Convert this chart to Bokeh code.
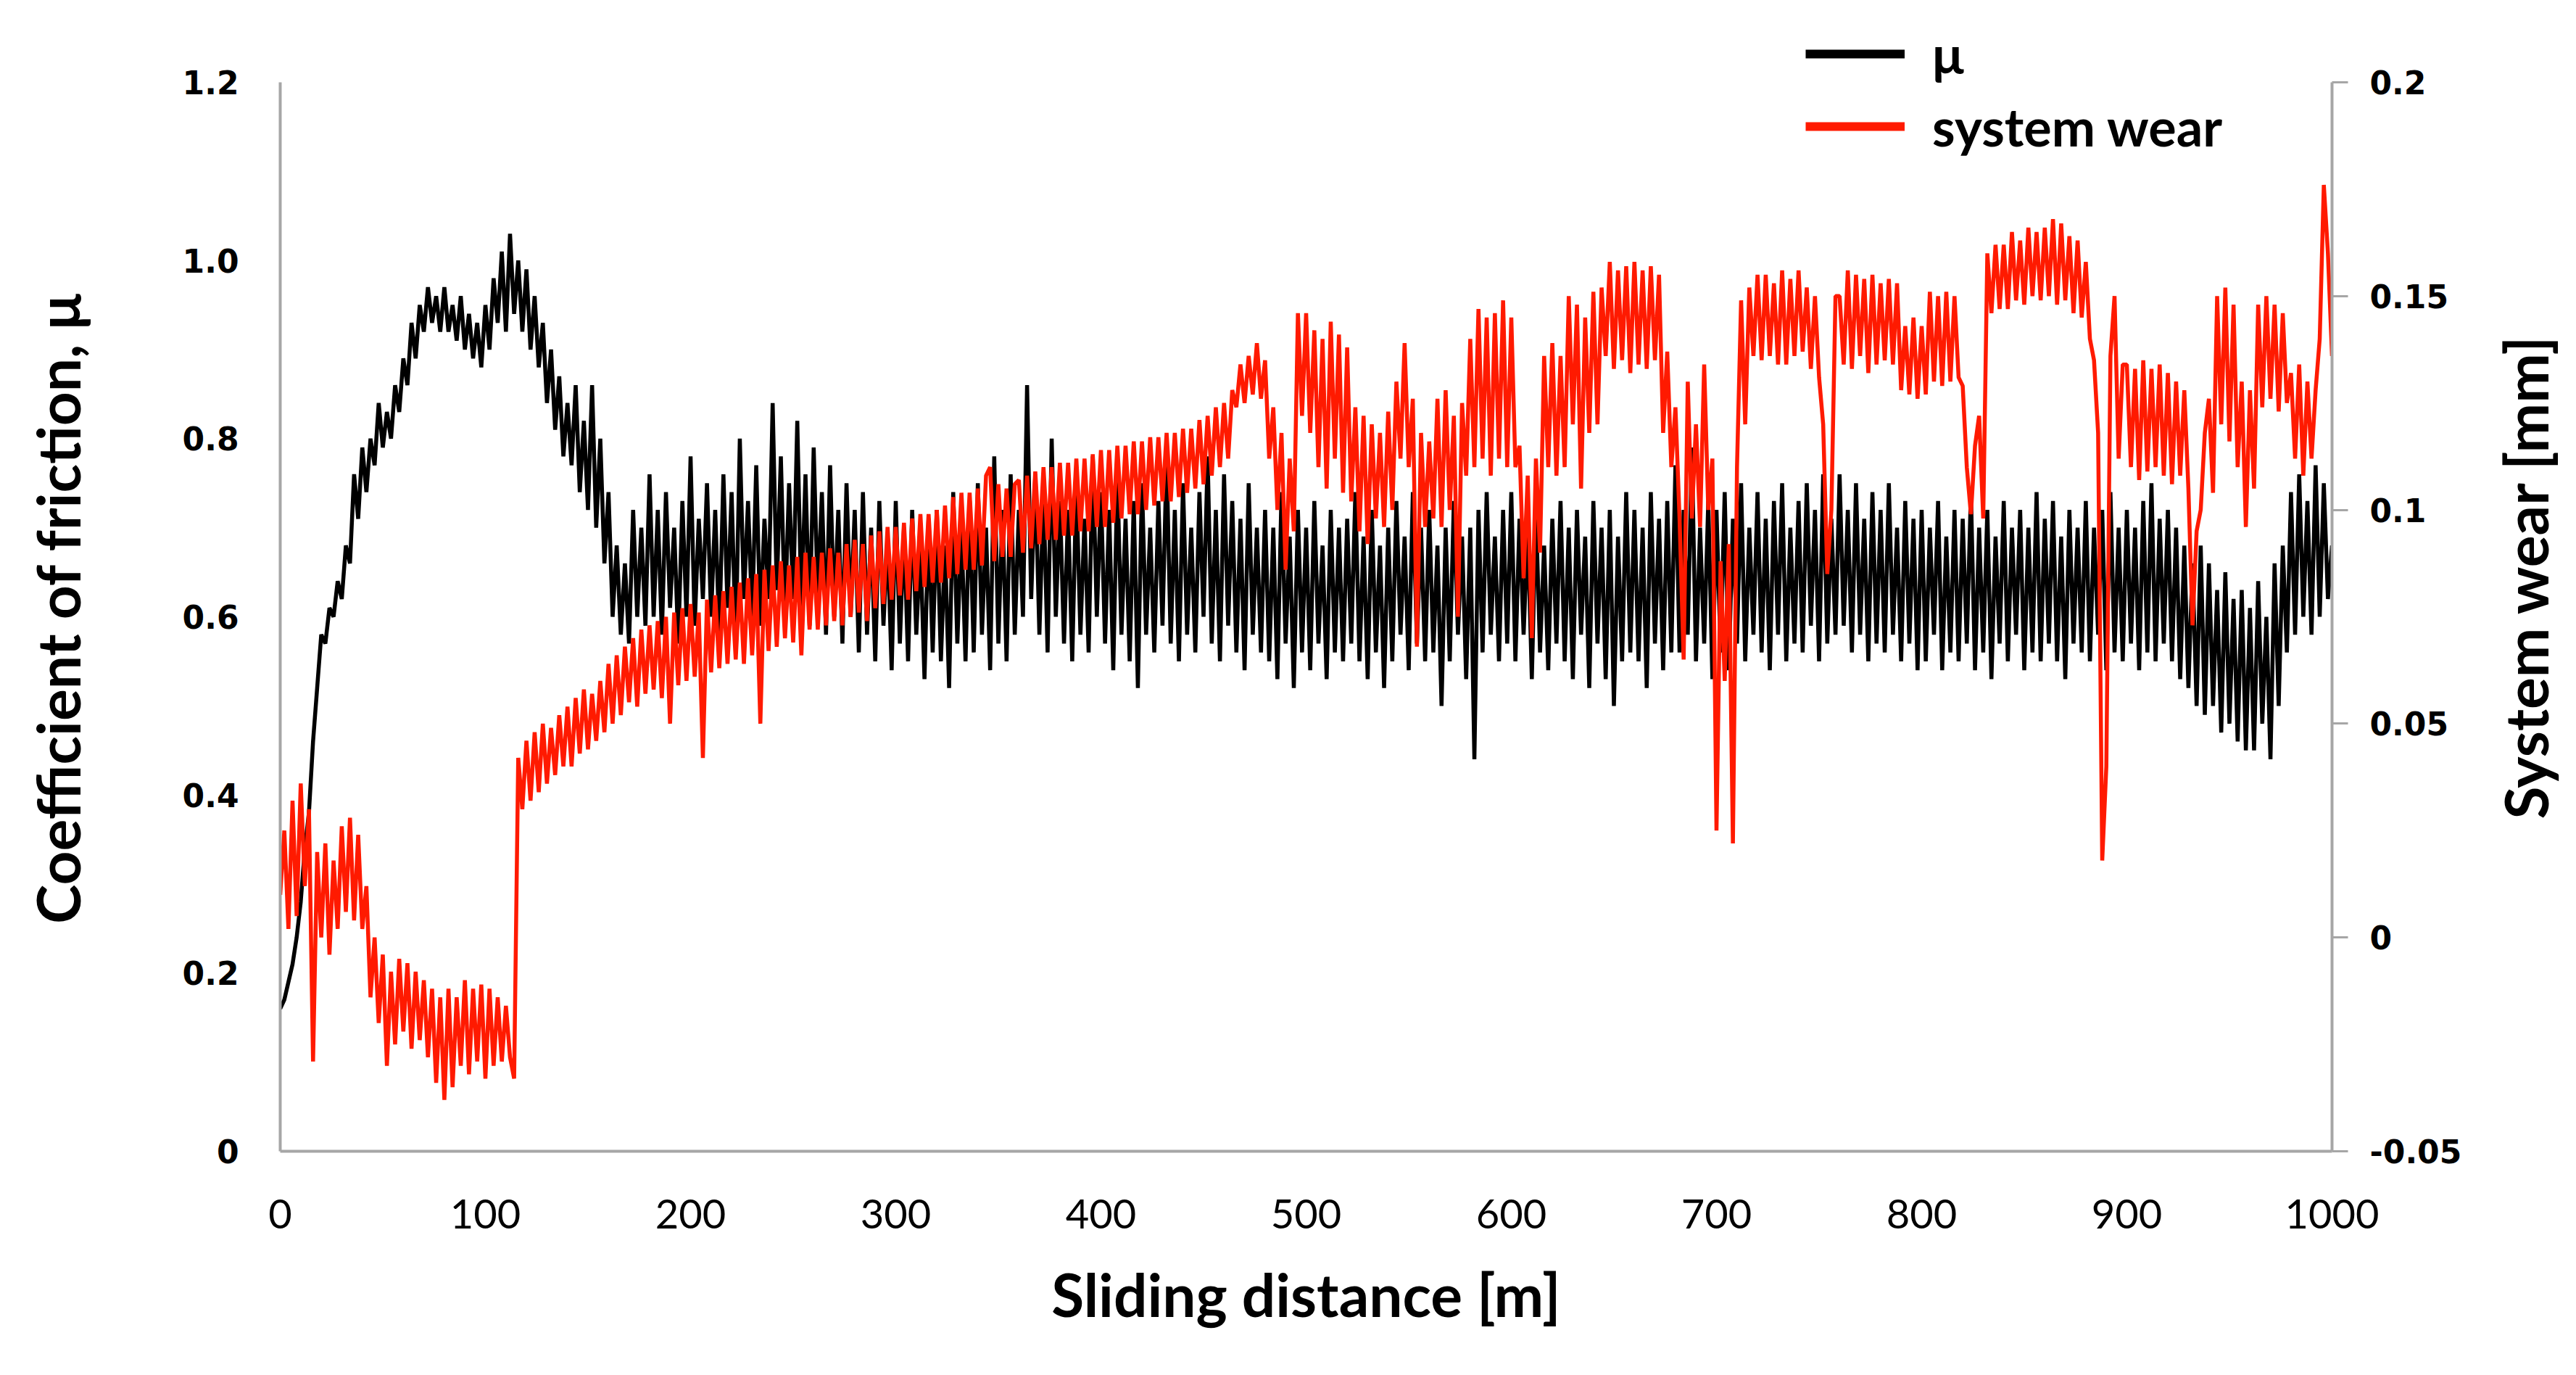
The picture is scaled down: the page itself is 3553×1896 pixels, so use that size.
import math
from bokeh.plotting import figure
from bokeh.layouts import row
from bokeh.models import Range1d, LinearAxis, FixedTicker, Legend, LegendItem, Label
from bokeh.embed import file_html
from bokeh.resources import INLINE

# Sliding distance [m], sampled every 2 m
distance = list(range(0, 1001, 2))

# Coefficient of friction
mu = [
    0.16, 0.17, 0.19, 0.21, 0.24, 0.28, 0.34, 0.38, 0.46, 0.52,
    0.58, 0.57, 0.61, 0.60, 0.64, 0.62, 0.68, 0.66, 0.76, 0.71,
    0.79, 0.74, 0.80, 0.77, 0.84, 0.79, 0.83, 0.80, 0.86, 0.83,
    0.89, 0.86, 0.93, 0.89, 0.95, 0.92, 0.97, 0.93, 0.96, 0.92,
    0.97, 0.92, 0.95, 0.91, 0.96, 0.90, 0.94, 0.89, 0.93, 0.88,
    0.95, 0.90, 0.98, 0.93, 1.01, 0.92, 1.03, 0.94, 1.00, 0.92,
    0.99, 0.90, 0.96, 0.88, 0.93, 0.84, 0.90, 0.81, 0.87, 0.78,
    0.84, 0.77, 0.86, 0.74, 0.82, 0.72, 0.86, 0.70, 0.80, 0.66,
    0.74, 0.60, 0.68, 0.58, 0.66, 0.57, 0.72, 0.60, 0.70, 0.59,
    0.76, 0.60, 0.72, 0.58, 0.74, 0.61, 0.70, 0.57, 0.73, 0.60,
    0.78, 0.59, 0.71, 0.62, 0.75, 0.60, 0.72, 0.58, 0.76, 0.61,
    0.74, 0.57, 0.80, 0.62, 0.73, 0.60, 0.77, 0.59, 0.71, 0.62,
    0.84, 0.63, 0.78, 0.60, 0.75, 0.62, 0.82, 0.61, 0.76, 0.59,
    0.79, 0.62, 0.74, 0.58, 0.77, 0.60, 0.72, 0.57, 0.75, 0.60,
    0.72, 0.56, 0.74, 0.58, 0.70, 0.55, 0.73, 0.59, 0.69, 0.54,
    0.73, 0.57, 0.70, 0.55, 0.72, 0.58, 0.68, 0.53, 0.71, 0.56,
    0.72, 0.55, 0.68, 0.52, 0.74, 0.57, 0.70, 0.55, 0.73, 0.56,
    0.75, 0.58, 0.70, 0.54, 0.78, 0.57, 0.72, 0.55, 0.76, 0.58,
    0.72, 0.60, 0.86, 0.62, 0.76, 0.58, 0.74, 0.56, 0.80, 0.60,
    0.73, 0.57, 0.72, 0.55, 0.75, 0.58, 0.71, 0.56, 0.78, 0.60,
    0.74, 0.57, 0.72, 0.54, 0.76, 0.58, 0.71, 0.55, 0.73, 0.52,
    0.75, 0.58, 0.70, 0.56, 0.73, 0.59, 0.78, 0.57, 0.72, 0.55,
    0.75, 0.58, 0.70, 0.56, 0.74, 0.60, 0.78, 0.57, 0.72, 0.55,
    0.76, 0.59, 0.73, 0.56, 0.71, 0.54, 0.75, 0.58, 0.70, 0.56,
    0.72, 0.55, 0.70, 0.53, 0.74, 0.57, 0.69, 0.52, 0.72, 0.56,
    0.70, 0.54, 0.73, 0.57, 0.68, 0.53, 0.72, 0.56, 0.70, 0.55,
    0.71, 0.57, 0.74, 0.55, 0.69, 0.53, 0.72, 0.56, 0.68, 0.52,
    0.70, 0.55, 0.73, 0.58, 0.69, 0.54, 0.74, 0.57, 0.70, 0.55,
    0.72, 0.56, 0.68, 0.50, 0.70, 0.55, 0.73, 0.58, 0.69, 0.53,
    0.70, 0.44, 0.72, 0.56, 0.74, 0.58, 0.69, 0.55, 0.72, 0.57,
    0.74, 0.55, 0.71, 0.58, 0.70, 0.53, 0.72, 0.56, 0.68, 0.54,
    0.71, 0.57, 0.73, 0.55, 0.70, 0.53, 0.72, 0.58, 0.69, 0.52,
    0.73, 0.57, 0.70, 0.53, 0.72, 0.50, 0.69, 0.55, 0.74, 0.56,
    0.72, 0.55, 0.70, 0.52, 0.74, 0.57, 0.71, 0.54, 0.73, 0.56,
    0.77, 0.56, 0.72, 0.58, 0.79, 0.55, 0.70, 0.57, 0.73, 0.53,
    0.72, 0.56, 0.74, 0.54, 0.71, 0.57, 0.75, 0.55, 0.70, 0.58,
    0.74, 0.56, 0.71, 0.54, 0.73, 0.58, 0.75, 0.55, 0.70, 0.57,
    0.73, 0.56, 0.75, 0.59, 0.72, 0.55, 0.76, 0.57, 0.71, 0.58,
    0.76, 0.59, 0.72, 0.56, 0.75, 0.58, 0.71, 0.55, 0.74, 0.57,
    0.72, 0.56, 0.75, 0.58, 0.70, 0.55, 0.73, 0.57, 0.71, 0.54,
    0.72, 0.55, 0.70, 0.58, 0.73, 0.54, 0.69, 0.56, 0.72, 0.55,
    0.71, 0.57, 0.74, 0.54, 0.70, 0.56, 0.72, 0.53, 0.69, 0.57,
    0.73, 0.55, 0.70, 0.58, 0.72, 0.54, 0.70, 0.56, 0.74, 0.55,
    0.71, 0.57, 0.73, 0.55, 0.69, 0.53, 0.72, 0.57, 0.70, 0.56,
    0.73, 0.55, 0.70, 0.58, 0.72, 0.54, 0.74, 0.56, 0.70, 0.55,
    0.72, 0.57, 0.70, 0.54, 0.73, 0.56, 0.75, 0.55, 0.71, 0.57,
    0.72, 0.55, 0.70, 0.53, 0.68, 0.52, 0.66, 0.50, 0.68, 0.49,
    0.66, 0.50, 0.63, 0.47, 0.65, 0.48, 0.62, 0.46, 0.63, 0.45,
    0.61, 0.45, 0.64, 0.48, 0.60, 0.44, 0.66, 0.50, 0.68, 0.56,
    0.74, 0.58, 0.76, 0.60, 0.73, 0.58, 0.77, 0.60, 0.75, 0.62,
    0.68,
]

# System wear [mm]
wear = [
    0.010, 0.025, 0.002, 0.032, 0.005, 0.036, 0.012, 0.030, -0.029, 0.020,
    0.000, 0.022, -0.004, 0.018, 0.002, 0.026, 0.006, 0.028, 0.004, 0.024,
    0.002, 0.012, -0.014, 0.000, -0.020, -0.004, -0.030, -0.008, -0.025, -0.005,
    -0.022, -0.006, -0.026, -0.008, -0.024, -0.010, -0.028, -0.012, -0.034, -0.014,
    -0.038, -0.012, -0.035, -0.014, -0.030, -0.010, -0.032, -0.012, -0.029, -0.011,
    -0.033, -0.012, -0.030, -0.014, -0.029, -0.016, -0.028, -0.033, 0.042, 0.030,
    0.046, 0.032, 0.048, 0.034, 0.050, 0.036, 0.049, 0.038, 0.052, 0.040,
    0.054, 0.040, 0.056, 0.043, 0.058, 0.044, 0.057, 0.046, 0.060, 0.048,
    0.064, 0.050, 0.066, 0.052, 0.068, 0.055, 0.070, 0.054, 0.072, 0.057,
    0.073, 0.058, 0.074, 0.056, 0.075, 0.050, 0.076, 0.059, 0.077, 0.060,
    0.078, 0.061, 0.076, 0.042, 0.079, 0.062, 0.080, 0.063, 0.081, 0.064,
    0.082, 0.065, 0.083, 0.064, 0.084, 0.066, 0.085, 0.050, 0.086, 0.067,
    0.087, 0.068, 0.088, 0.070, 0.087, 0.069, 0.089, 0.066, 0.090, 0.072,
    0.089, 0.072, 0.090, 0.073, 0.091, 0.074, 0.090, 0.073, 0.092, 0.075,
    0.093, 0.076, 0.092, 0.074, 0.094, 0.077, 0.095, 0.078, 0.096, 0.079,
    0.096, 0.080, 0.097, 0.079, 0.098, 0.081, 0.099, 0.082, 0.099, 0.083,
    0.100, 0.083, 0.101, 0.084, 0.103, 0.085, 0.104, 0.086, 0.104, 0.086,
    0.105, 0.087, 0.108, 0.110, 0.088, 0.106, 0.089, 0.105, 0.089, 0.106,
    0.107, 0.090, 0.108, 0.091, 0.109, 0.092, 0.110, 0.093, 0.110, 0.093,
    0.111, 0.094, 0.111, 0.094, 0.112, 0.095, 0.112, 0.095, 0.113, 0.096,
    0.114, 0.096, 0.114, 0.097, 0.115, 0.098, 0.115, 0.099, 0.116, 0.099,
    0.116, 0.100, 0.117, 0.101, 0.117, 0.102, 0.118, 0.102, 0.118, 0.103,
    0.119, 0.104, 0.119, 0.105, 0.121, 0.106, 0.122, 0.108, 0.124, 0.110,
    0.125, 0.112, 0.128, 0.124, 0.134, 0.125, 0.136, 0.127, 0.139, 0.126,
    0.135, 0.112, 0.124, 0.100, 0.118, 0.086, 0.112, 0.095, 0.146, 0.122,
    0.146, 0.118, 0.142, 0.110, 0.140, 0.105, 0.144, 0.112, 0.141, 0.104,
    0.138, 0.102, 0.124, 0.095, 0.122, 0.092, 0.120, 0.098, 0.118, 0.096,
    0.123, 0.100, 0.130, 0.112, 0.139, 0.110, 0.126, 0.068, 0.118, 0.096,
    0.116, 0.098, 0.126, 0.096, 0.128, 0.100, 0.122, 0.075, 0.125, 0.108,
    0.140, 0.110, 0.147, 0.112, 0.145, 0.108, 0.146, 0.112, 0.149, 0.110,
    0.145, 0.110, 0.115, 0.084, 0.108, 0.070, 0.112, 0.090, 0.136, 0.110,
    0.139, 0.108, 0.136, 0.110, 0.150, 0.120, 0.148, 0.105, 0.145, 0.118,
    0.151, 0.120, 0.152, 0.136, 0.158, 0.133, 0.156, 0.135, 0.157, 0.132,
    0.158, 0.134, 0.156, 0.133, 0.157, 0.135, 0.155, 0.118, 0.137, 0.110,
    0.124, 0.098, 0.065, 0.130, 0.098, 0.120, 0.096, 0.134, 0.100, 0.112,
    0.025, 0.088, 0.060, 0.092, 0.022, 0.110, 0.149, 0.120, 0.152, 0.136,
    0.155, 0.135, 0.155, 0.136, 0.153, 0.134, 0.156, 0.134, 0.154, 0.136,
    0.156, 0.137, 0.152, 0.133, 0.150, 0.131, 0.120, 0.085, 0.100, 0.150,
    0.150, 0.134, 0.156, 0.133, 0.155, 0.136, 0.154, 0.132, 0.155, 0.134,
    0.153, 0.135, 0.154, 0.134, 0.153, 0.128, 0.143, 0.127, 0.145, 0.126,
    0.143, 0.127, 0.151, 0.130, 0.150, 0.129, 0.151, 0.130, 0.150, 0.131,
    0.129, 0.110, 0.099, 0.115, 0.122, 0.098, 0.160, 0.146, 0.162, 0.147,
    0.162, 0.147, 0.165, 0.149, 0.163, 0.148, 0.166, 0.150, 0.165, 0.149,
    0.166, 0.150, 0.168, 0.148, 0.167, 0.149, 0.164, 0.146, 0.163, 0.145,
    0.158, 0.140, 0.135, 0.118, 0.018, 0.040, 0.136, 0.150, 0.112, 0.134,
    0.134, 0.110, 0.133, 0.107, 0.135, 0.109, 0.133, 0.110, 0.134, 0.108,
    0.132, 0.106, 0.130, 0.108, 0.128, 0.105, 0.073, 0.095, 0.100, 0.118,
    0.126, 0.104, 0.150, 0.120, 0.152, 0.116, 0.148, 0.110, 0.130, 0.096,
    0.128, 0.105, 0.148, 0.124, 0.150, 0.126, 0.148, 0.123, 0.146, 0.125,
    0.132, 0.112, 0.134, 0.108, 0.130, 0.112, 0.128, 0.140, 0.176, 0.160,
    0.136,
]

assert len(mu) == len(distance) and len(wear) == len(distance)

mu_ticks = [0, 0.2, 0.4, 0.6, 0.8, 1.0, 1.2]
mu_tick_labels = ["0", "0.2", "0.4", "0.6", "0.8", "1.0", "1.2"]
wear_ticks = [-0.05, 0, 0.05, 0.1, 0.15, 0.2]
wear_tick_labels = ["-0.05", "0", "0.05", "0.1", "0.15", "0.2"]
dist_ticks = [0, 100, 200, 300, 400, 500, 600, 700, 800, 900, 1000]

mu_title = "Coefficient of friction, μ"
wear_title = "System wear [mm]"
dist_title = "Sliding distance [m]"
legend_labels = ["μ", "system wear"]

AXIS_GRAY = "#a6a6a6"
RED = "#ff1a00"
TITLE_FONT = "Lato"
TITLE_SIZE = "82px"
LINE_W = 5.5

# ---- layout (pixels)
H = 1880
W_LEFT, W_MAIN, W_RIGHT = 180, 3236, 121
AXIS_PX = 1474            # height spanned by the two y axes
EXTRA_PX = 83             # frame reaches a bit higher so the legend is not clipped
scale = (AXIS_PX + EXTRA_PX) / AXIS_PX
mu_lo, mu_hi = 0, 1.2
w_lo, w_hi = -0.05, 0.2

p = figure(width=W_MAIN, height=H, output_backend="svg", toolbar_location=None,
           x_range=Range1d(0, 1000),
           y_range=Range1d(mu_lo, mu_lo + (mu_hi - mu_lo) * scale),
           min_border_left=206, min_border_right=200,
           min_border_top=113 - EXTRA_PX, min_border_bottom=293,
           x_axis_location=None, y_axis_location=None)
p.extra_y_ranges = {"wear": Range1d(w_lo, w_lo + (w_hi - w_lo) * scale)}
p.grid.visible = False
p.outline_line_color = None

ax_l = LinearAxis(ticker=FixedTicker(ticks=mu_ticks), bounds=(mu_lo, mu_hi),
                  major_label_overrides=dict(zip(mu_ticks, mu_tick_labels)))
ax_r = LinearAxis(y_range_name="wear", ticker=FixedTicker(ticks=wear_ticks),
                  bounds=(w_lo, w_hi),
                  major_label_overrides=dict(zip(wear_ticks, wear_tick_labels)))
ax_b = LinearAxis(ticker=FixedTicker(ticks=dist_ticks), axis_label=dist_title)

for ax in (ax_l, ax_r, ax_b):
    ax.axis_line_color = AXIS_GRAY
    ax.axis_line_width = 4
    ax.major_tick_line_color = AXIS_GRAY
    ax.major_tick_line_width = 3
    ax.minor_tick_line_color = None
    ax.major_tick_in = 0
    ax.major_tick_out = 0
    ax.major_label_text_color = "black"

for ax in (ax_l, ax_r):
    ax.major_label_text_font = "DejaVu Sans"
    ax.major_label_text_font_style = "bold"
    ax.major_label_text_font_size = "44px"

ax_l.major_label_standoff = 57
ax_r.major_tick_out = 22
ax_r.major_label_standoff = 30

ax_b.major_label_text_font = "Lato"
ax_b.major_label_text_font_size = "56px"
ax_b.major_label_standoff = 66
ax_b.axis_label_standoff = 38
ax_b.axis_label_text_color = "black"
ax_b.axis_label_text_font = TITLE_FONT
ax_b.axis_label_text_font_style = "bold"
ax_b.axis_label_text_font_size = TITLE_SIZE

p.add_layout(ax_l, "left")
p.add_layout(ax_r, "right")
p.add_layout(ax_b, "below")

p.line(distance, mu, line_color="black", line_width=LINE_W)
p.line(distance, wear, line_color=RED, line_width=LINE_W, y_range_name="wear")

# hidden thick copies, used only for the legend swatches
leg_mu = p.line(distance, mu, line_color="black", line_width=12, visible=False)
leg_wear = p.line(distance, wear, line_color=RED, line_width=12,
                  y_range_name="wear", visible=False)

legend = Legend(items=[LegendItem(label=legend_labels[0], renderers=[leg_mu]),
                       LegendItem(label=legend_labels[1], renderers=[leg_wear])],
                location=(2104, 1370), orientation="vertical",
                glyph_width=137, glyph_height=80, label_standoff=38,
                spacing=14, padding=0, margin=0,
                label_text_font="Lato", label_text_font_style="bold",
                label_text_font_size="72px", label_text_color="black",
                border_line_alpha=0, background_fill_alpha=0,
                inactive_fill_alpha=0)
p.add_layout(legend, "center")


def title_strip(width, text, cx, cy):
    """A narrow blank figure that carries one rotated axis title."""
    f = figure(width=width, height=H, output_backend="svg", toolbar_location=None,
               x_range=Range1d(0, width), y_range=Range1d(0, H),
               min_border=0, x_axis_location=None, y_axis_location=None)
    f.grid.visible = False
    f.outline_line_color = None
    f.add_layout(Label(x=cx, y=cy, text=text, angle=math.pi / 2,
                       text_align="center", text_baseline="middle",
                       text_font=TITLE_FONT, text_font_style="bold",
                       text_font_size=TITLE_SIZE, text_color="black"))
    return f


left_strip = title_strip(W_LEFT, mu_title, 78, H - 852 - 124)
right_strip = title_strip(W_RIGHT, wear_title, 66, H - 810 - 113)

layout = row(left_strip, p, right_strip, spacing=0)
open("out.html", "w").write(file_html(layout, INLINE))
